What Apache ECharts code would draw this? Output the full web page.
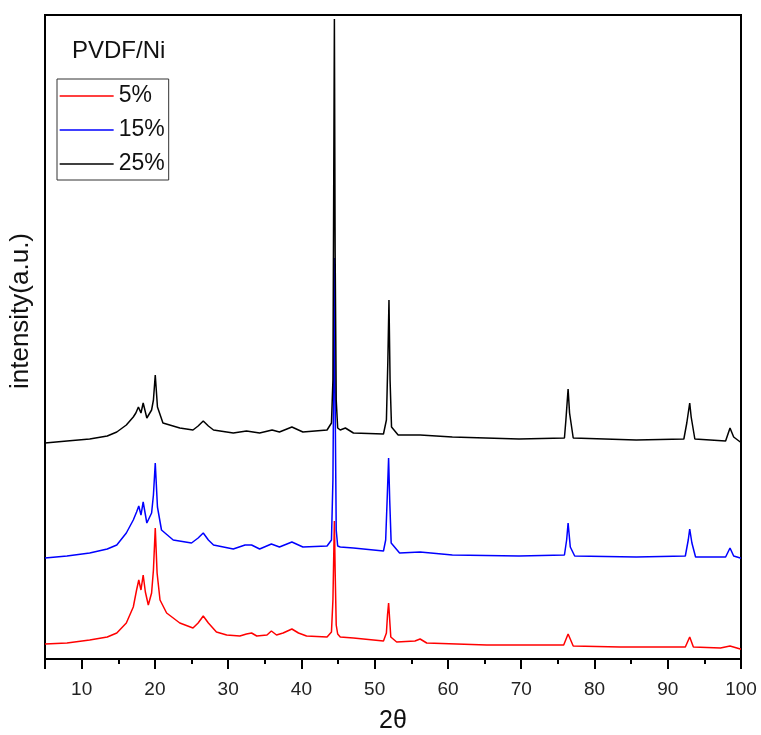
<!DOCTYPE html>
<html>
<head>
<meta charset="utf-8">
<script src="https://cdn.jsdelivr.net/npm/echarts@6/dist/echarts.min.js"></script>
<style>
html,body{margin:0;padding:0;background:#fff;}
#chart{width:761px;height:735px;}
</style>
</head>
<body>
<div id="chart"></div>
<script>
// Series names (legend)
const seriesNames = ['5%', '15%', '25%'];
const seriesColors = ['#ff0000', '#0000ff', '#000000'];

// 5% PVDF/Ni : 2θ and intensity (a.u.)
const theta5 = [5.0, 8.0, 11.1, 13.5, 14.8, 16.1, 17.05, 17.5, 17.8, 18.1, 18.4, 18.7, 19.1, 19.55, 19.8, 20.05, 20.3, 20.7, 21.6, 23.4, 25.2, 25.9, 26.6, 27.3, 28.4, 29.8, 31.6, 32.5, 33.2, 33.9, 35.3, 35.9, 36.6, 37.5, 38.7, 39.6, 40.7, 43.5, 44.1, 44.3, 44.4, 44.5, 44.6, 44.75, 44.95, 45.3, 47.1, 51.2, 51.6, 51.75, 51.9, 52.05, 52.2, 53.0, 55.5, 56.2, 57.1, 65.3, 75.8, 76.4, 77.1, 83.5, 92.4, 93.0, 93.5, 97.2, 98.5, 99.9, 100];
const int5 = [15, 16, 19, 22, 26, 36, 52, 69, 79, 69, 84, 67, 54, 66, 89, 131, 86, 59, 46, 36, 31, 36, 43, 36, 27, 24, 23, 25, 26, 23, 24, 28, 24, 26, 30, 26, 23, 22, 27, 59, 99, 138, 89, 34, 25, 22, 21, 18, 26, 44, 56, 39, 22, 17, 18, 20, 16, 14, 14, 25, 13, 12, 12, 22, 12, 11, 13, 10, 10];

// 15% PVDF/Ni
const theta15 = [5.0, 8.0, 11.1, 13.5, 14.8, 16.1, 17.05, 17.5, 17.8, 18.1, 18.4, 18.9, 19.55, 19.8, 20.05, 20.35, 20.9, 22.5, 25.0, 25.9, 26.6, 27.3, 28.0, 30.7, 32.3, 33.2, 34.3, 35.9, 37.0, 38.7, 40.2, 43.5, 44.1, 44.3, 44.4, 44.5, 44.6, 44.75, 44.95, 45.3, 47.1, 51.2, 51.5, 51.7, 51.9, 52.05, 52.25, 53.4, 56.2, 60.6, 69.7, 75.9, 76.2, 76.4, 76.7, 77.3, 85.7, 92.4, 92.8, 93.0, 93.3, 93.8, 97.9, 98.5, 99.0, 99.9, 100];
const int15 = [101, 103, 106, 110, 114, 126, 139, 147, 153, 144, 157, 136, 146, 164, 196, 152, 129, 119, 116, 121, 126, 119, 114, 110, 114, 114, 110, 115, 112, 117, 112, 113, 119, 179, 279, 401, 259, 129, 113, 112, 111, 108, 119, 159, 201, 159, 116, 106, 107, 104, 103, 104, 119, 136, 112, 103, 102, 103, 119, 130, 116, 102, 102, 111, 103, 101, 101];

// 25% PVDF/Ni
const theta25 = [5.0, 8.0, 11.1, 13.5, 14.8, 16.1, 17.05, 17.4, 17.75, 18.1, 18.4, 18.9, 19.55, 19.8, 20.05, 20.35, 21.1, 23.4, 25.2, 25.9, 26.6, 27.3, 28.0, 30.7, 32.5, 34.3, 36.0, 37.0, 38.7, 40.2, 43.5, 44.1, 44.3, 44.4, 44.5, 44.6, 44.75, 44.95, 45.3, 46.0, 47.1, 51.2, 51.6, 51.8, 51.95, 52.1, 52.3, 53.2, 56.2, 60.6, 69.7, 75.9, 76.1, 76.4, 76.6, 77.1, 85.7, 92.2, 92.6, 93.0, 93.2, 93.7, 97.9, 98.5, 99.0, 99.9, 100];
const int25 = [216, 218, 220, 223, 227, 234, 242, 246, 252, 246, 256, 241, 249, 259, 284, 252, 236, 231, 229, 233, 238, 233, 229, 226, 228, 226, 229, 227, 232, 227, 229, 236, 279, 459, 640, 409, 259, 231, 229, 231, 226, 225, 239, 299, 359, 279, 232, 224, 224, 222, 220, 221, 239, 270, 246, 221, 219, 220, 236, 256, 242, 220, 218, 231, 222, 217, 217];

const FONT = '"Liberation Sans", Arial, sans-serif';

function zip(xs, ys) { return xs.map((x, i) => [x, ys[i]]); }
const allData = [zip(theta5, int5), zip(theta15, int15), zip(theta25, int25)];

const chart = echarts.init(document.getElementById('chart'), null, {renderer: 'canvas'});
chart.setOption({
  animation: false,
  backgroundColor: '#ffffff',
  title: {
    text: 'PVDF/Ni',
    left: 72,
    top: 39,
    padding: 0,
    textStyle: {fontFamily: FONT, fontSize: 24, fontWeight: 'normal', color: '#111'}
  },
  legend: {
    data: seriesNames,
    orient: 'vertical',
    left: 57,
    top: 79,
    itemWidth: 54,
    itemHeight: 14,
    itemGap: 10,
    padding: [5, 4, 4, 2],
    borderColor: '#333',
    borderWidth: 1,
    itemStyle: {opacity: 0},
    lineStyle: {width: 1.3},
    textStyle: {fontFamily: FONT, fontSize: 23, lineHeight: 24, color: '#111'}
  },
  grid: {
    left: 45, right: 20, top: 15, bottom: 76,
    outerBoundsMode: 'none',
    containLabel: false,
    show: true, borderColor: '#000', borderWidth: 2, backgroundColor: 'transparent'
  },
  xAxis: {
    type: 'value',
    min: 5, max: 100,
    splitNumber: 10,
    name: '2θ',
    nameLocation: 'middle',
    nameGap: 50,
    nameTextStyle: {fontFamily: FONT, fontSize: 25, color: '#111'},
    axisLine: {show: true, onZero: false, lineStyle: {color: '#000', width: 2}},
    axisTick: {show: true, inside: false, length: 10, lineStyle: {color: '#000', width: 2}},
    minorTick: {show: true, splitNumber: 2, length: 5, lineStyle: {color: '#000', width: 2}},
    axisLabel: {show: true, margin: 21, showMinLabel: false, fontFamily: FONT, fontSize: 19, color: '#222'},
    splitLine: {show: false},
    minorSplitLine: {show: false}
  },
  yAxis: {
    type: 'value',
    min: 0, max: 644,
    name: 'intensity(a.u.)',
    nameLocation: 'middle',
    nameGap: 11,
    nameTextStyle: {fontFamily: FONT, fontSize: 26, color: '#111', padding: [0, 0, 0, 52]},
    axisLine: {show: true, lineStyle: {color: '#000', width: 2}},
    axisTick: {show: false},
    axisLabel: {show: false},
    splitLine: {show: false}
  },
  series: seriesNames.map((name, i) => ({
    name: name,
    type: 'line',
    data: allData[i],
    symbol: 'circle',
    showSymbol: false,
    smooth: false,
    lineStyle: {color: seriesColors[i], width: 1.5},
    itemStyle: {color: seriesColors[i]},
    z: 2 + i
  }))
});
</script>
</body>
</html>
